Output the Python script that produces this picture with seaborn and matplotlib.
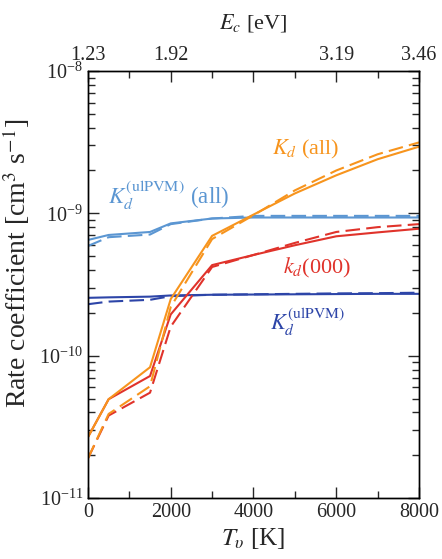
import matplotlib
matplotlib.use("Agg")
import matplotlib.pyplot as plt
import matplotlib.ticker as mticker
import numpy as np
import pandas as pd
import seaborn as sns

# Vibrational temperature grid [K]
T_v = [0, 500, 1500, 2000, 3000, 4000, 5000, 6000, 7000, 8000]

# Rate coefficients [cm^3 s^-1]; solid and dashed variants of each quantity
kd_all_solid = [2.68e-11, 4.95e-11, 8.3e-11, 2.5e-10, 6.95e-10, 9.8e-10, 1.38e-9, 1.85e-9, 2.4e-9, 2.94e-9]
kd_all_dashed = [1.9e-11, 3.9e-11, 6.1e-11, 2.2e-10, 6.6e-10, 9.7e-10, 1.45e-9, 2.0e-9, 2.6e-9, 3.15e-9]
kd000_solid = [2.68e-11, 4.95e-11, 7.2e-11, 1.95e-10, 4.33e-10, 5.1e-10, 5.97e-10, 6.9e-10, 7.35e-10, 7.8e-10]
kd000_dashed = [1.9e-11, 3.8e-11, 5.5e-11, 1.6e-10, 4.2e-10, 5.1e-10, 6.2e-10, 7.4e-10, 8.0e-10, 8.4e-10]
ulpvm_all_solid = [6.5e-10, 7.05e-10, 7.4e-10, 8.5e-10, 9.2e-10, 9.35e-10, 9.35e-10, 9.35e-10, 9.35e-10, 9.35e-10]
ulpvm_all_dashed = [5.9e-10, 6.8e-10, 7.1e-10, 8.4e-10, 9.2e-10, 9.6e-10, 9.6e-10, 9.6e-10, 9.6e-10, 9.6e-10]
ulpvm_solid = [2.55e-10, 2.57e-10, 2.6e-10, 2.65e-10, 2.68e-10, 2.69e-10, 2.7e-10, 2.71e-10, 2.72e-10, 2.72e-10]
ulpvm_dashed = [2.3e-10, 2.4e-10, 2.47e-10, 2.62e-10, 2.68e-10, 2.7e-10, 2.72e-10, 2.74e-10, 2.75e-10, 2.77e-10]

# Collision energy labels for the top axis
Ec_ticks = [0, 2000, 4000, 6000, 8000]
Ec_labels = ["1.23", "1.92", "", "3.19", "3.46"]

ORANGE = "#F7941D"
RED = "#E0332B"
LBLUE = "#5B96D2"
DBLUE = "#2D45A8"

sns.set_style("ticks")
plt.rcParams["font.family"] = ["Liberation Serif", "DejaVu Serif"]
plt.rcParams["mathtext.fontset"] = "stix"

fig = plt.figure(figsize=(4.42, 5.59), dpi=100)
ax = fig.add_axes([0.199, 0.109, 0.749, 0.764])

series = [
    (ulpvm_dashed, DBLUE, "--"),
    (ulpvm_solid, DBLUE, "-"),
    (ulpvm_all_dashed, LBLUE, "--"),
    (ulpvm_all_solid, LBLUE, "-"),
    (kd000_dashed, RED, "--"),
    (kd000_solid, RED, "-"),
    (kd_all_dashed, ORANGE, "--"),
    (kd_all_solid, ORANGE, "-"),
]
for vals, col, ls in series:
    df = pd.DataFrame({"T": T_v, "k": vals})
    line_kw = dict(dashes=(7, 3)) if ls == "--" else {}
    sns.lineplot(data=df, x="T", y="k", color=col, lw=1.5, ax=ax, **line_kw)

ax.set_yscale("log")
ax.set_xlim(0, 8000)
ax.set_ylim(1e-11, 1e-8)
ax.set_xlabel(r"$T_\upsilon$ [K]", fontsize=18, labelpad=3)
ax.set_ylabel(r"Rate coefficient [cm$^3$ s$^{-1}$]", fontsize=20)
ax.yaxis.set_label_coords(-0.17, 0.55)

ax.xaxis.set_major_locator(mticker.MultipleLocator(2000))
ax.xaxis.set_minor_locator(mticker.MultipleLocator(1000))
ax.yaxis.set_major_locator(mticker.LogLocator(base=10, numticks=10))
ax.yaxis.set_minor_locator(mticker.LogLocator(base=10, subs=np.arange(2, 10), numticks=20))
ax.yaxis.set_minor_formatter(mticker.NullFormatter())
ax.tick_params(which="both", direction="in", top=False, right=True, labelsize=14.5, width=1.0)
ax.tick_params(which="major", length=8)
ax.tick_params(which="minor", length=5)

top = ax.twiny()
top.set_xlim(ax.get_xlim())
top.set_xticks(Ec_ticks)
top.set_xticklabels(Ec_labels)
top.xaxis.set_minor_locator(mticker.MultipleLocator(1000))
top.tick_params(which="both", direction="in", labelsize=14.5, width=1.0, pad=4)
top.tick_params(which="major", length=8)
top.tick_params(which="minor", length=5)
top.set_xlabel(r"$E_c$ [eV]", fontsize=16, labelpad=13)

for a in (ax, top):
    for s in a.spines.values():
        s.set_linewidth(1.0)
        s.set_color("black")

ax.text(4440, 2.79e-9, r"$K_d$ (all)", color=ORANGE, fontsize=16, va="center")
ax.text(480, 1.35e-9, r"$K_d^{(\mathrm{ulPVM})}$ (all)", color=LBLUE, fontsize=16.5, va="center")
ax.text(4710, 4.13e-10, r"$k_d$(000)", color=RED, fontsize=16, va="center")
ax.text(4400, 1.72e-10, r"$K_d^{(\mathrm{ulPVM})}$", color=DBLUE, fontsize=16, va="center")

fig.savefig("out.png", dpi=100)
